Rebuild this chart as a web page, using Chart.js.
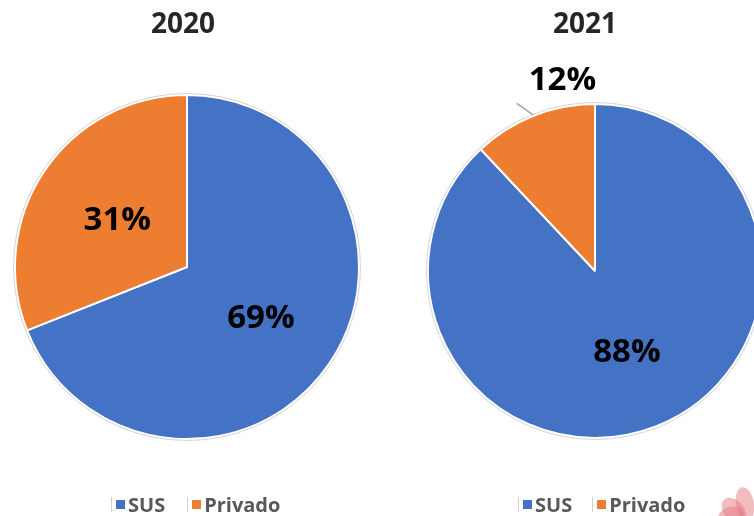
<!DOCTYPE html>
<html>
<head>
<meta charset="utf-8">
<script src="https://cdn.jsdelivr.net/npm/chart.js@4.4.0/dist/chart.umd.min.js"></script>
<style>
  html, body { margin:0; padding:0; width:754px; height:516px; overflow:hidden; background:#fff; font-family:"Open Sans", sans-serif; }
  #wrap { position:relative; width:754px; height:516px; overflow:hidden; }
  canvas { position:absolute; top:0; }
  .title { position:absolute; top:4px; font-weight:700; font-size:28px; color:#262626; transform:translateX(-50%); white-space:nowrap; line-height:36px; }
  .legend { position:absolute; top:491px; height:26px; display:flex; align-items:center; font-weight:700; font-size:20px; color:#595959; white-space:nowrap; }
  .legend .item { display:flex; align-items:center; }
  .legend .sw { position:relative; width:9px; height:9px; margin-right:3px; }
  .legend .sw::before { content:""; position:absolute; left:-5px; top:-3px; width:1px; height:15px; background:#d0d0d0; }
  .flower { position:absolute; border-radius:50%; background:rgba(228,120,130,0.5); }
</style>
</head>
<body>
<div id="wrap">
  <canvas id="c1" width="377" height="516" style="left:0;width:377px;height:516px"></canvas>
  <canvas id="c2" width="420" height="516" style="left:377px;width:420px;height:516px"></canvas>
  <div class="title" id="t1" style="left:183px"></div>
  <div class="title" id="t2" style="left:585px"></div>
  <div class="legend" id="l1" style="left:116px"></div>
  <div class="legend" id="l2" style="left:523px"></div>
  <div class="flower" style="left:724px;top:496px;width:20px;height:30px;transform:rotate(-40deg)"></div>
  <div class="flower" style="left:736px;top:487px;width:18px;height:34px;transform:rotate(-10deg)"></div>
  <div class="flower" style="left:718px;top:507px;width:26px;height:16px;transform:rotate(-15deg)"></div>
</div>
<script>
// ---- data ----
const categories = ["SUS", "Privado"];
const years = ["2020", "2021"];
const values2020 = [69, 31];
const values2021 = [88, 12];
const sliceColors = ["#4472C4", "#ED7D31"];

// ---- label plugin ----
const pctPlugin = {
  id: 'pctLabels',
  afterDatasetsDraw(chart, args, opts) {
    const ctx = chart.ctx;
    const meta = chart.getDatasetMeta(0);
    const data = chart.data.datasets[0].data;
    const total = data.reduce((a, b) => a + b, 0);
    ctx.save();
    if (meta.data.length) {
      const a0 = meta.data[0];
      ctx.beginPath();
      ctx.arc(a0.x, a0.y, a0.outerRadius + 1.5, 0, Math.PI * 2);
      ctx.strokeStyle = '#d4d4d4';
      ctx.lineWidth = 1;
      ctx.stroke();
    }
    meta.data.forEach((arc, i) => {
      const p = arc.getProps(['x', 'y', 'startAngle', 'endAngle', 'outerRadius'], true);
      const mid = (p.startAngle + p.endAngle) / 2;
      const txt = Math.round(data[i] / total * 100) + '%';
      ctx.font = '700 33px "Open Sans"';
      ctx.fillStyle = '#000';
      ctx.textBaseline = 'middle';
      const f = opts.fractions[i];
      if (f === 'outside') {
        const r1 = p.outerRadius + 1;
        const r2 = p.outerRadius + 18;
        const x1 = p.x + Math.cos(mid) * r1, y1 = p.y + Math.sin(mid) * r1;
        const x2 = p.x + Math.cos(mid - 0.06) * r2, y2 = p.y + Math.sin(mid - 0.06) * r2;
        ctx.beginPath();
        ctx.moveTo(x1, y1);
        ctx.lineTo(x2, y2);
        ctx.strokeStyle = '#a6a6a6';
        ctx.lineWidth = 1.5;
        ctx.stroke();
        ctx.textAlign = 'left';
        ctx.fillText(txt, x2 + 12, y2 - 23);
      } else {
        ctx.textAlign = 'center';
        const r = p.outerRadius * f;
        ctx.fillText(txt, p.x + Math.cos(mid) * r, p.y + Math.sin(mid) * r + 1);
      }
    });
    ctx.restore();
  }
};

function makePie(id, values, padding, fractions) {
  return new Chart(document.getElementById(id), {
    type: 'pie',
    data: {
      labels: categories,
      datasets: [{
        data: values,
        backgroundColor: sliceColors,
        borderColor: '#ffffff',
        borderWidth: 2,
        hoverOffset: 0
      }]
    },
    options: {
      responsive: false,
      animation: false,
      layout: { padding: padding },
      plugins: {
        legend: { display: false },
        title: { display: false },
        tooltip: { enabled: false },
        pctLabels: { fractions: fractions }
      }
    },
    plugins: [pctPlugin]
  });
}

makePie('c1', values2020, { left: 14, right: 17, top: 94, bottom: 76 }, [0.52, 0.49]);
makePie('c2', values2021, { left: 50, right: 34, top: 103, bottom: 77 }, [0.52, 'outside']);

document.getElementById('t1').textContent = years[0];
document.getElementById('t2').textContent = years[1];
function buildLegend(id, gap) {
  const el = document.getElementById(id);
  categories.forEach((c, i) => {
    const item = document.createElement('div');
    item.className = 'item';
    if (i > 0) item.style.marginLeft = gap + 'px';
    const sw = document.createElement('span');
    sw.className = 'sw';
    sw.style.background = sliceColors[i];
    const lb = document.createElement('span');
    lb.textContent = c;
    item.appendChild(sw);
    item.appendChild(lb);
    el.appendChild(item);
  });
}
buildLegend('l1', 27);
buildLegend('l2', 25);
</script>
</body>
</html>
